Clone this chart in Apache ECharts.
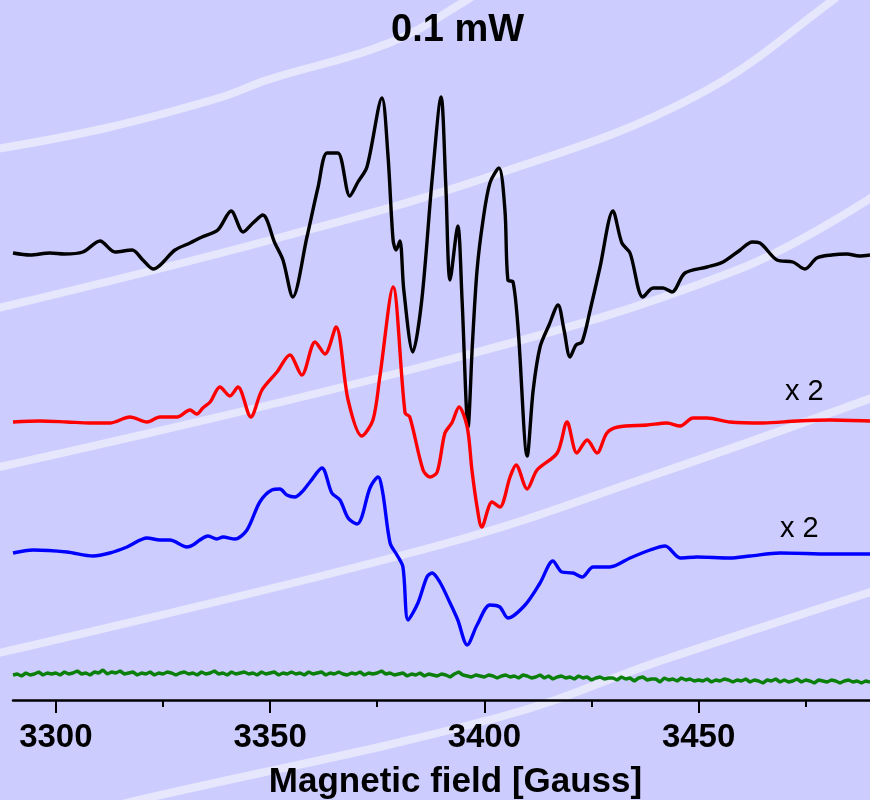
<!DOCTYPE html>
<html>
<head>
<meta charset="utf-8">
<script src="https://cdn.jsdelivr.net/npm/echarts@6/dist/echarts.min.js"></script>
<style>
  html, body { margin: 0; padding: 0; background: #ccccff; }
  #chart { width: 870px; height: 800px; }
</style>
</head>
<body>
<div id="chart"></div>
<script>
// field values (Gauss) and signal heights, per trace
var blackField = [3290.0, 3294.0, 3298.6, 3302.0, 3306.3, 3310.3, 3313.8, 3317.8, 3320.3, 3322.7, 3327.8, 3331.3, 3334.1, 3337.8, 3340.9, 3343.7, 3346.0, 3348.3,
    3351.1, 3353.0, 3355.3, 3358.6, 3361.2, 3363.3, 3365.8, 3368.6, 3370.5, 3372.6, 3376.1, 3377.5, 3378.7, 3379.4, 3380.3, 3381.2,
    3383.3, 3385.4, 3387.8, 3389.9, 3391.0, 3392.0, 3393.8, 3394.8, 3396.2, 3397.2, 3398.3, 3399.7, 3401.3, 3403.4, 3404.8, 3405.5,
    3406.7, 3407.9, 3410.0, 3411.4, 3413.0, 3415.1, 3417.2, 3418.6, 3420.0, 3421.4, 3422.8, 3424.7, 3427.0, 3430.0, 3432.1, 3434.0,
    3437.0, 3439.4, 3441.7, 3443.8, 3446.8, 3452.0, 3455.7, 3459.7, 3462.5, 3464.3, 3468.3, 3472.0, 3474.8, 3477.6, 3481.0, 3484.6, 3487.5, 3490.0];
var blackSignal = [2, 0, 2, 1, 3, 14, 3, 5, -5, -14, 5, 12, 18, 25, 44, 23, 32, 40,
    12, -5, -42, 18, 68, 102, 102, 59, 73, 88, 157, 100, 15, 5, 14, -35,
    -97, -45, 75, 158, 70, -25, 29, -45, -172, -90, -15, 35, 72, 87, 45, -25,
    -27, -75, -201, -135, -92, -70, -50, -75, -102, -90, -87, -55, -12, 44, 12, 2,
    -42, -33, -33, -37, -18, -12, -7, 5, 13, 12, -5, -7, -14, -3, 0, 1, -1, 0];

var redField = [3290.0, 3296.3, 3302.6, 3308.0, 3312.6, 3317.3, 3321.3, 3324.3, 3328.3, 3331.3, 3332.9, 3334.3, 3336.0, 3338.3, 3340.6, 3342.5,
    3345.5, 3348.1, 3351.6, 3354.6, 3357.4, 3360.5, 3362.8, 3365.4, 3368.2, 3371.4, 3374.0, 3375.6, 3378.7, 3381.5, 3382.6, 3385.7,
    3387.3, 3389.0, 3390.8, 3392.4, 3394.1, 3396.0, 3397.1, 3398.3, 3399.4, 3401.8, 3403.6, 3406.0, 3407.4, 3410.0, 3412.3, 3417.0,
    3419.3, 3421.6, 3424.0, 3426.3, 3428.6, 3431.2, 3438.0, 3442.6, 3445.7, 3448.7, 3452.0, 3457.3, 3465.0, 3473.0, 3480.7, 3490.0];
var redSignal = [-1, 0, -1, -2, -2, 4, -1, 4, 4, 11, 7, 13, 19, 34, 25, 34,
    4, 31, 49, 66, 46, 79, 67, 94, 21, -15, 1, 44, 134, 8, 4, -49,
    -56, -51, -12, -2, 14, -6, -49, -86, -106, -81, -86, -56, -44, -68, -49, -32,
    -1, -32, -19, -32, -12, -6, -4, -2, -5, 3, 3, -1, -2, 0, 1, 0];

var blueField = [3290.0, 3294.7, 3302.6, 3308.7, 3312.6, 3316.6, 3321.3, 3324.3, 3326.6, 3330.6, 3332.0, 3333.6, 3335.5, 3337.6, 3339.0, 3341.8,
    3344.6, 3347.6, 3350.4, 3352.3, 3353.9, 3355.8, 3357.4, 3359.3, 3362.1, 3364.4, 3366.3, 3368.2, 3370.3, 3371.4, 3373.3, 3375.2,
    3376.3, 3378.0, 3379.6, 3381.0, 3382.2, 3384.5, 3386.6, 3387.8, 3389.6, 3392.0, 3393.8, 3396.0, 3398.3, 3401.3, 3403.6, 3405.5,
    3409.5, 3413.0, 3416.0, 3418.1, 3420.7, 3422.8, 3425.4, 3429.3, 3434.0, 3438.7, 3442.2, 3445.7, 3449.6, 3457.3, 3462.0, 3469.0,
    3480.7, 3490.0];
var blueSignal = [-2, 1, -1, -5, -2, 4, 13, 11, 11, 4, 6, 11, 15, 12, 14, 12,
    21, 49, 61, 62, 56, 54, 59, 69, 83, 58, 51, 33, 27, 34, 63, 74,
    58, 8, -4, -16, -69, -52, -26, -22, -31, -52, -69, -94, -74, -54, -56, -67,
    -54, -32, -10, -21, -22, -26, -16, -16, -7, 1, 5, -7, -6, -7, -5, -2,
    -3, -3];

var greenField = [3290, 3291, 3292, 3293, 3294, 3295, 3296, 3297, 3298, 3299,
    3300, 3301, 3302, 3303, 3304, 3305, 3306, 3307, 3308, 3309,
    3310, 3311, 3312, 3313, 3314, 3315, 3316, 3317, 3318, 3319,
    3320, 3321, 3322, 3323, 3324, 3325, 3326, 3327, 3328, 3329,
    3330, 3331, 3332, 3333, 3334, 3335, 3336, 3337, 3338, 3339,
    3340, 3341, 3342, 3343, 3344, 3345, 3346, 3347, 3348, 3349,
    3350, 3351, 3352, 3353, 3354, 3355, 3356, 3357, 3358, 3359,
    3360, 3361, 3362, 3363, 3364, 3365, 3366, 3367, 3368, 3369,
    3370, 3371, 3372, 3373, 3374, 3375, 3376, 3377, 3378, 3379,
    3380, 3381, 3382, 3383, 3384, 3385, 3386, 3387, 3388, 3389,
    3390, 3391, 3392, 3393, 3394, 3395, 3396, 3397, 3398, 3399,
    3400, 3401, 3402, 3403, 3404, 3405, 3406, 3407, 3408, 3409,
    3410, 3411, 3412, 3413, 3414, 3415, 3416, 3417, 3418, 3419,
    3420, 3421, 3422, 3423, 3424, 3425, 3426, 3427, 3428, 3429,
    3430, 3431, 3432, 3433, 3434, 3435, 3436, 3437, 3438, 3439,
    3440, 3441, 3442, 3443, 3444, 3445, 3446, 3447, 3448, 3449,
    3450, 3451, 3452, 3453, 3454, 3455, 3456, 3457, 3458, 3459,
    3460, 3461, 3462, 3463, 3464, 3465, 3466, 3467, 3468, 3469,
    3470, 3471, 3472, 3473, 3474, 3475, 3476, 3477, 3478, 3479,
    3480, 3481, 3482, 3483, 3484, 3485, 3486, 3487, 3488, 3489,
    3490];
var greenSignal = [0, 1, -1, 2, 0, 1, 3, 0, 2, 1,
    2, 0, 3, 1, 2, 4, 1, 2, 0, 3,
    2, 5, 1, 3, 2, 4, 1, 2, 3, 0,
    2, 1, 3, 0, 2, 1, 3, 2, 0, 2,
    3, 1, 2, 0, 3, 1, 2, 4, 1, 2,
    0, 3, 1, 2, 3, 1, 2, 0, 3, 1,
    2, 3, 0, 2, 1, 3, 1, 2, 0, 3,
    1, 2, 3, 0, 2, 1, 3, 1, 0, 2,
    1, 3, 0, 2, 1, 2, 4, 1, 2, 0,
    1, 2, -1, 1, 0, 2, -1, 1, 0, -1,
    1, 0, -2, 1, 3, 0, -1, -2, 0, -1,
    -2, 0, -1, -3, -1, 0, -2, -1, -3, 0,
    -1, -3, -2, 0, -3, -1, -4, -2, -1, -3,
    -2, -4, -1, -3, -2, -5, -3, -2, -4, -3,
    -3, -5, -2, -4, -3, -6, -3, -2, -5, -4,
    -4, -7, -3, -5, -4, -6, -3, -5, -4, -6,
    -5, -6, -4, -7, -5, -6, -4, -5, -7, -5,
    -6, -4, -7, -5, -6, -8, -5, -6, -4, -7,
    -5, -7, -6, -4, -7, -5, -6, -8, -5, -6,
    -7, -5, -6, -8, -6, -5, -7, -6, -8, -6,
    -7];

// vertical offset of each trace (stacked spectra)
var baselines = { black: 445, red: 279, blue: 149, green: 25 };
var traceColors = { black: '#000000', red: '#ff0000', blue: '#0000ff', green: '#0a800a' };

var fieldTicks = [3300, 3350, 3400, 3450];
var fieldMinorTicks = [3325, 3375, 3425, 3475];
var titleText = '0.1 mW';
var axisTitle = 'Magnetic field [Gauss]';
var scaleNote = 'x 2';

function pairUp(fields, signal, base) {
    return fields.map(function (f, i) { return [f, base + signal[i]]; });
}

// pale arcs in the background
var arcs = [
    [[-10, 150], [106, 128], [222, 97], [267, 80], [389, 43], [467, 0], [480, -10]],
    [[-10, 310], [278, 238], [500, 173], [694, 97], [833, 0], [845, -15]],
    [[-10, 469], [440, 362], [737, 270], [880, 192]],
    [[-10, 655], [440, 545], [657, 474], [880, 395]],
    [[100, 810], [139, 800], [500, 717], [663, 660], [880, 589]]
];

var chart = echarts.init(document.getElementById('chart'));

var lineSeries = function (name, data, smooth) {
    return {
        name: name,
        type: 'line',
        data: data,
        showSymbol: false,
        smooth: smooth,
        z: 3,
        lineStyle: { color: traceColors[name], width: 3.4 },
        itemStyle: { color: traceColors[name] }
    };
};

chart.setOption({
    backgroundColor: '#ccccff',
    animation: false,
    title: {
        text: titleText,
        left: 386,
        top: 7,
        textStyle: { fontFamily: 'Liberation Sans', fontSize: 38, fontWeight: 'bold', color: '#000' }
    },
    grid: { left: 13, right: 0, top: 0, bottom: 100, outerBoundsMode: 'none' },
    xAxis: [{
        type: 'value',
        min: 3290,
        max: 3490,
        name: axisTitle,
        nameLocation: 'middle',
        nameGap: 65,
        nameTextStyle: { fontFamily: 'Liberation Sans', fontSize: 35, fontWeight: 'bold', color: '#000', padding: [0, 0, 0, 28] },
        splitLine: { show: false },
        axisLine: { lineStyle: { color: '#000', width: 2.5 } },
        axisTick: { customValues: fieldTicks, length: 13, lineStyle: { color: '#000', width: 2 } },
        axisLabel: {
            customValues: fieldTicks,
            margin: 21,
            formatter: function (v) { return String(v); },
            fontFamily: 'Liberation Sans', fontSize: 33, fontWeight: 'bold', color: '#000'
        }
    }, {
        type: 'value',
        position: 'bottom',
        min: 3290,
        max: 3490,
        splitLine: { show: false },
        axisLine: { show: false },
        axisTick: { customValues: fieldMinorTicks, length: 7, lineStyle: { color: '#000', width: 2 } },
        axisLabel: { show: false }
    }],
    yAxis: { type: 'value', min: 0, max: 700, show: false },
    graphic: arcs.map(function (pts) {
        return {
            type: 'polyline',
            z: 0,
            silent: true,
            shape: { points: pts, smooth: 0.4 },
            style: { stroke: '#e6e6fc', lineWidth: 8, fill: null }
        };
    }).concat([
        { type: 'text', left: 785, top: 377, z: 5,
          style: { text: scaleNote, font: '29px "Liberation Sans"', fill: '#000' } },
        { type: 'text', left: 780, top: 514, z: 5,
          style: { text: scaleNote, font: '29px "Liberation Sans"', fill: '#000' } }
    ]),
    series: [
        lineSeries('black', pairUp(blackField, blackSignal, baselines.black), 0.3),
        lineSeries('red', pairUp(redField, redSignal, baselines.red), 0.3),
        lineSeries('blue', pairUp(blueField, blueSignal, baselines.blue), 0.3),
        lineSeries('green', pairUp(greenField, greenSignal, baselines.green), false)
    ]
});
</script>
</body>
</html>
